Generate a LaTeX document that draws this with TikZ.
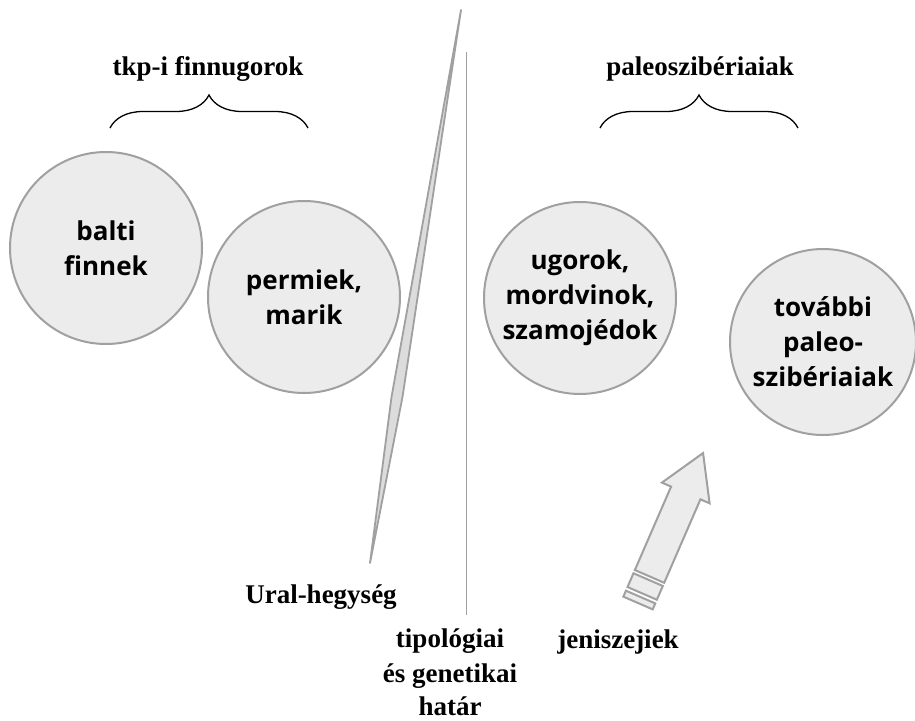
\documentclass[tikz,border=0pt]{standalone}
\usepackage{fontspec}
\setmainfont{Liberation Serif}
\newfontfamily\circfont{Open Sans}
\usetikzlibrary{decorations.pathreplacing}
\definecolor{shapefill}{HTML}{ECECEC}
\definecolor{shapeedge}{HTML}{A0A0A0}
\definecolor{wedgefill}{HTML}{DCDCDC}
\begin{document}
\begin{tikzpicture}[x=1pt,y=-1pt,
  circ/.style={circle, draw=shapeedge, fill=shapefill, line width=2pt,
    minimum size=192pt, inner sep=0pt, align=center,
    font=\circfont\bfseries\fontsize{26}{35}\selectfont},
  lbl/.style={font=\bfseries\fontsize{27}{36}\selectfont, align=center, inner sep=0pt},
  bracestyle/.style={decorate, decoration={brace, amplitude=33pt}, line width=1.3pt},
  blockshape/.style={draw=shapeedge, fill=shapefill, line width=2pt, line join=miter}]
\useasboundingbox (0,0) rectangle (915,720);

% circles
\node[circ] (balti) at (106,248) {balti\\finnek};
\node[circ] (perm) at (304,297) {permiek,\\marik};
\node[circ] (ugor) at (580,298) {ugorok,\\mordvinok,\\szamojédok};
\node[circ, minimum size=186pt] (tovabbi) at (823,342) {további\\paleo-\\szibériaiak};

% group labels and braces
\node[lbl, anchor=base] (tkp) at (208,75) {tkp-i finnugorok};
\node[lbl, anchor=base] (paleo) at (700,75) {paleoszibériaiak};
\coordinate (b1l) at (110,128); \coordinate (b1r) at (308,128);
\coordinate (b2l) at (600,128); \coordinate (b2r) at (798,128);
\draw[bracestyle] (b1l) -- (b1r);
\draw[bracestyle] (b2l) -- (b2r);

% boundary line
\coordinate (vtop) at (466,52); \coordinate (vbot) at (466,615);
\draw[shapeedge, line width=1pt] (vtop) -- (vbot);

% Ural wedge
\coordinate (wt) at (461,10); \coordinate (wr) at (402.5,397);
\coordinate (wb) at (370,563); \coordinate (wl) at (391.5,397);
\draw[draw=shapeedge, fill=wedgefill, line width=1.8pt, line join=round]
  (wt) -- (wr) -- (wb) -- (wl) -- cycle;

% block arrow
\begin{scope}[shift={(638,603)}, x={(0.398pt,0.917pt)}, y={(0.917pt,-0.398pt)}]
  \draw[blockshape] (29,-16) -- (120,-16) -- (120,-26) -- (163.5,0) -- (120,26)
    -- (120,16) -- (29,16) -- cycle;
  \draw[blockshape] (10.5,-16) -- (25.5,-16) -- (25.5,16) -- (10.5,16) -- cycle;
  \draw[blockshape] (0,-16) -- (6.5,-16) -- (6.5,16) -- (0,16) -- cycle;
\end{scope}

% labels
\node[lbl, anchor=base] (ural) at (321,603) {Ural-hegység};
\node[lbl, anchor=base] (jen) at (618,648) {jeniszejiek};
\node[lbl, anchor=base] (hatar1) at (450,647) {tipológiai};
\node[lbl, anchor=base] (hatar2) at (450,682) {és genetikai};
\node[lbl, anchor=base] (hatar3) at (450,715) {határ};
\end{tikzpicture}
\end{document}
